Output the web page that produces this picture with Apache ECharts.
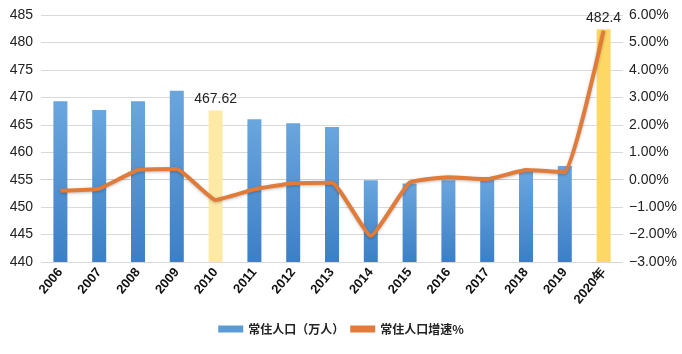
<!DOCTYPE html>
<html>
<head>
<meta charset="utf-8">
<script src="https://cdn.jsdelivr.net/npm/echarts@6/dist/echarts.min.js"></script>
<style>
html, body { margin: 0; padding: 0; background: #fff; }
#chartDom { width: 682px; height: 354px; }
</style>
</head>
<body>
<div id="chartDom"></div>
<script>
// 年份
const years = ["2006", "2007", "2008", "2009", "2010", "2011", "2012", "2013", "2014", "2015", "2016", "2017", "2018", "2019", "2020年"];
// 常住人口（万人）
const population = [469.3, 467.7, 469.3, 471.2, 467.62, 466.0, 465.3, 464.6, 454.9, 454.3, 454.9, 455.3, 456.4, 457.5, 482.4];
// 常住人口增速%
const growth = [-0.40, -0.33, 0.35, 0.39, -0.74, -0.35, -0.13, -0.11, -2.05, -0.11, 0.09, 0.02, 0.35, 0.27, 5.43];
// 需要高亮的年份（普查年）
const highlight = { "2010": "light", "2020年": "strong" };

const blueBar = new echarts.graphic.LinearGradient(0, 0, 0, 1, [
  { offset: 0, color: "#6aa6de" },
  { offset: 1, color: "#3c7fc6" }
]);

let myChart = echarts.init(document.getElementById("chartDom"));
myChart.setOption({
  animation: false,
  textStyle: { fontFamily: "Liberation Sans, Arial, sans-serif" },
  grid: { left: 41, right: 59, top: 15, bottom: 92 },
  legend: {
    bottom: 14,
    left: "center",
    itemGap: 6,
    itemWidth: 25,
    itemHeight: 7,
    textStyle: { fontSize: 12, fontWeight: "bold", color: "#222", fontFamily: "Noto Sans CJK SC" },
    data: [
      { name: "常住人口（万人）", icon: "rect", itemStyle: { color: "#5b9bd5" } },
      { name: "常住人口增速%", icon: "rect", itemStyle: { color: "#e07b39" } }
    ]
  },
  xAxis: {
    type: "category",
    data: years,
    axisLine: { lineStyle: { color: "#d0d0d0" } },
    axisTick: { show: false },
    axisLabel: { rotate: 50, fontSize: 13, fontWeight: "bold", color: "#111", margin: 8, interval: 0 }
  },
  yAxis: [
    {
      type: "value",
      min: 440, max: 485, interval: 5,
      axisLine: { show: false },
      axisTick: { show: false },
      splitLine: { lineStyle: { color: "#d9d9d9" } },
      axisLabel: { fontSize: 14, color: "#222", margin: 8 }
    },
    {
      type: "value",
      min: -3, max: 6, interval: 1,
      axisLine: { show: false },
      axisTick: { show: false },
      splitLine: { show: false },
      axisLabel: {
        fontSize: 14, color: "#222", margin: 6,
        formatter: v => (v < 0 ? "\u2212" + Math.abs(v).toFixed(2) : v.toFixed(2)) + "%"
      }
    }
  ],
  series: [
    {
      name: "常住人口（万人）",
      type: "bar",
      barWidth: 14,
      itemStyle: { color: "#5b9bd5" },
      data: population.map((v, i) => {
        const h = highlight[years[i]];
        if (!h) return { value: v, itemStyle: { color: blueBar } };
        return {
          value: v,
          itemStyle: { color: h === "strong" ? "#fdd865" : "#ffe9a6" },
          label: { show: true, position: "top", distance: 4, fontSize: 14, color: "#222" }
        };
      })
    },
    {
      name: "常住人口增速%",
      type: "line",
      yAxisIndex: 1,
      smooth: 0.12,
      symbol: "none",
      z: 5,
      lineStyle: { color: "#e07b39", width: 4, shadowColor: "rgba(0,0,0,0.25)", shadowBlur: 3, shadowOffsetY: 1 },
      itemStyle: { color: "#e07b39" },
      data: growth
    }
  ]
});
</script>
</body>
</html>
